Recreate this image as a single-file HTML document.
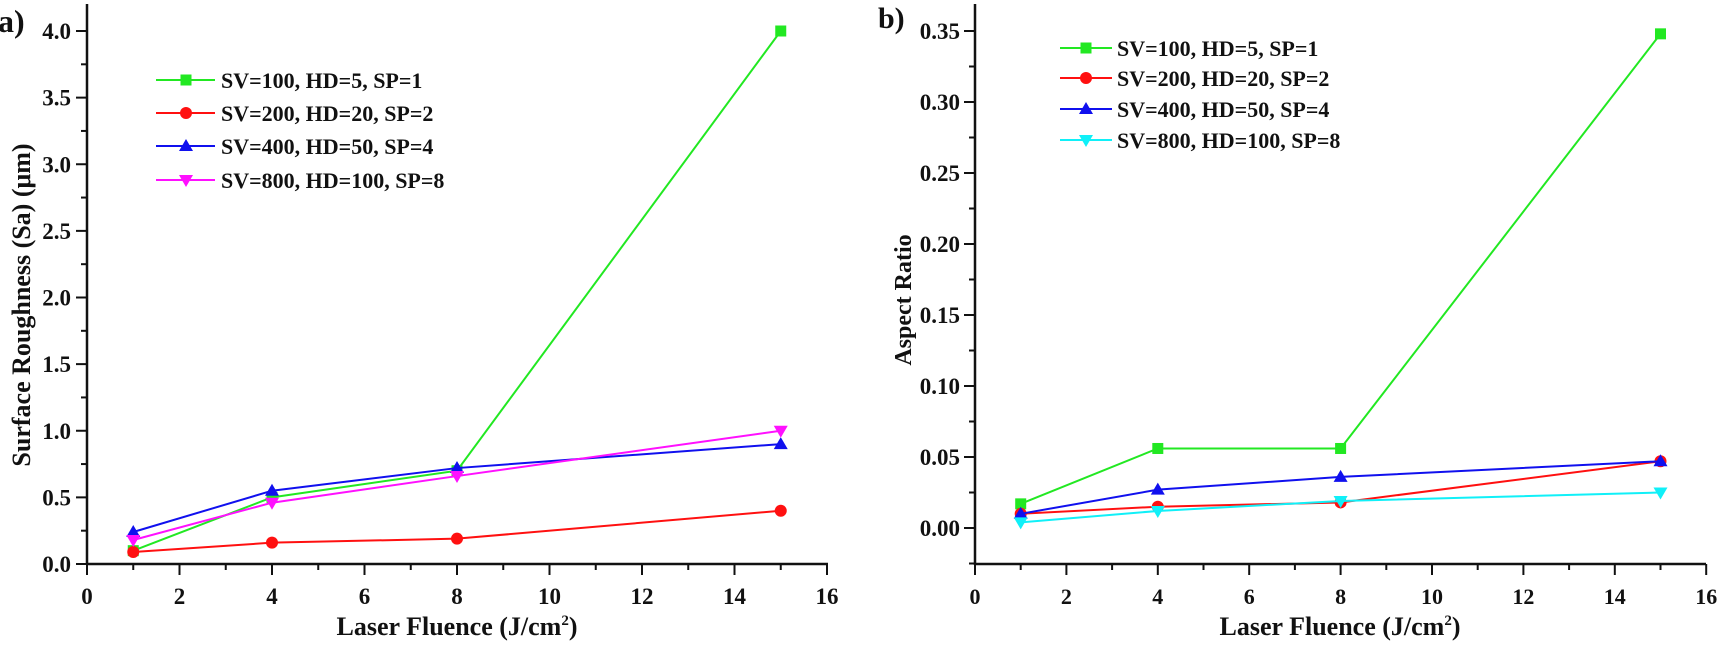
<!DOCTYPE html>
<html><head><meta charset="utf-8"><style>
body{margin:0;background:#fff}
svg text{font-family:"Liberation Serif",serif;font-weight:bold;fill:#111}
</style></head><body>
<svg id="s" width="1718" height="642" viewBox="0 0 1718 642" xmlns="http://www.w3.org/2000/svg">
<g stroke="#111" stroke-width="2.5" fill="none">
<line x1="87" y1="4" x2="87" y2="565"/><line x1="86" y1="564" x2="828" y2="564"/>
<line x1="975" y1="4" x2="975" y2="565"/><line x1="974" y1="564" x2="1706" y2="564"/>
</g>
<g id="ticks" stroke="#111" stroke-width="2"></g>
<g id="labels" font-size="23"></g>
<text x="-2" y="32" font-size="32">a)</text>
<text x="878" y="28" font-size="30">b)</text>
<text x="457" y="635" font-size="26" text-anchor="middle">Laser Fluence (J/cm<tspan font-size="15" dy="-10">2</tspan><tspan dy="10">)</tspan></text>
<text x="1340" y="635" font-size="26" text-anchor="middle">Laser Fluence (J/cm<tspan font-size="15" dy="-10">2</tspan><tspan dy="10">)</tspan></text>
<text transform="translate(30,305) rotate(-90)" font-size="26" text-anchor="middle">Surface Roughness (Sa) (μm)</text>
<text transform="translate(911,300) rotate(-90)" font-size="24" text-anchor="middle">Aspect Ratio</text>
<g id="series"></g>
<g id="legend" font-size="22"></g>
</svg>
<script>
const NS="http://www.w3.org/2000/svg";
function el(p,t,a,txt){const e=document.createElementNS(NS,t);for(const k in a)e.setAttribute(k,a[k]);if(txt!==undefined)e.textContent=txt;document.getElementById(p).appendChild(e);return e;}
[[87,46.25,23],[975,45.7,22]].forEach(([x0,s,fs])=>{
 for(let i=0;i<=16;i++){const x=x0+s*i;el("ticks","line",{x1:x,y1:564,x2:x,y2:i%2?570:575});
 if(i%2==0)el("labels","text",{x:x,y:604,"text-anchor":"middle","font-size":fs},String(i));}
});
for(let k=0;k<=16;k++){const v=k*0.25,y=564-133.25*v;el("ticks","line",{x1:87,y1:y,x2:k%2?81:76,y2:y});
 if(k%2==0)el("labels","text",{x:71,y:y+8,"text-anchor":"end"},v.toFixed(1));}
for(let k=-1;k<=14;k++){const v=k*0.025,y=528-1420*v;el("ticks","line",{x1:975,y1:y,x2:(k%2)?969:964,y2:y});
 if(k>=0&&k%2==0)el("labels","text",{x:960,y:y+8,"text-anchor":"end"},v.toFixed(2));}
function mark(g,type,x,y,c){
 if(type=="s")el(g,"rect",{x:x-5.5,y:y-5.5,width:11,height:11,fill:c});
 else if(type=="c")el(g,"circle",{cx:x,cy:y,r:6,fill:c});
 else if(type=="u")el(g,"polygon",{points:`${x},${y-7} ${x+7},${y+5} ${x-7},${y+5}`,fill:c});
 else el(g,"polygon",{points:`${x},${y+7} ${x+7},${y-5} ${x-7},${y-5}`,fill:c});
}
function series(xs,ys,c,t){el("series","polyline",{points:xs.map((x,i)=>x+","+ys[i]).join(" "),fill:"none",stroke:c,"stroke-width":2});xs.forEach((x,i)=>mark("series",t,x,ys[i],c));}
const XL=[133.25,272,457,780.75],XR=[1020.7,1157.8,1340.6,1660.5];
const YL=v=>564-133.25*v,YR=v=>528-1420*v;
const L=[["#22e822","s",[0.1,0.5,0.7,4.0]],["#ff1010","c",[0.09,0.16,0.19,0.40]],["#1010ee","u",[0.24,0.55,0.72,0.90]],["#ff10ff","d",[0.18,0.46,0.66,1.0]]];
const R=[["#22e822","s",[0.017,0.056,0.056,0.348]],["#ff1010","c",[0.01,0.015,0.018,0.047]],["#1010ee","u",[0.01,0.027,0.036,0.047]],["#10f0f8","d",[0.004,0.012,0.019,0.025]]];
L.forEach(([c,t,v])=>series(XL,v.map(YL),c,t));
R.forEach(([c,t,v])=>series(XR,v.map(YR),c,t));
const names=["SV=100, HD=5, SP=1","SV=200, HD=20, SP=2","SV=400, HD=50, SP=4","SV=800, HD=100, SP=8"];
const ly=[80,113,146,180],ry=[48,78,109,140];
L.forEach(([c,t],i)=>{el("legend","line",{x1:156,y1:ly[i],x2:215,y2:ly[i],stroke:c,"stroke-width":2});mark("legend",t,186,ly[i],c);el("legend","text",{x:221,y:ly[i]+8},names[i]);});
R.forEach(([c,t],i)=>{el("legend","line",{x1:1060,y1:ry[i],x2:1112,y2:ry[i],stroke:c,"stroke-width":2});mark("legend",t,1086,ry[i],c);el("legend","text",{x:1117,y:ry[i]+8},names[i]);});
</script>
</body></html>
